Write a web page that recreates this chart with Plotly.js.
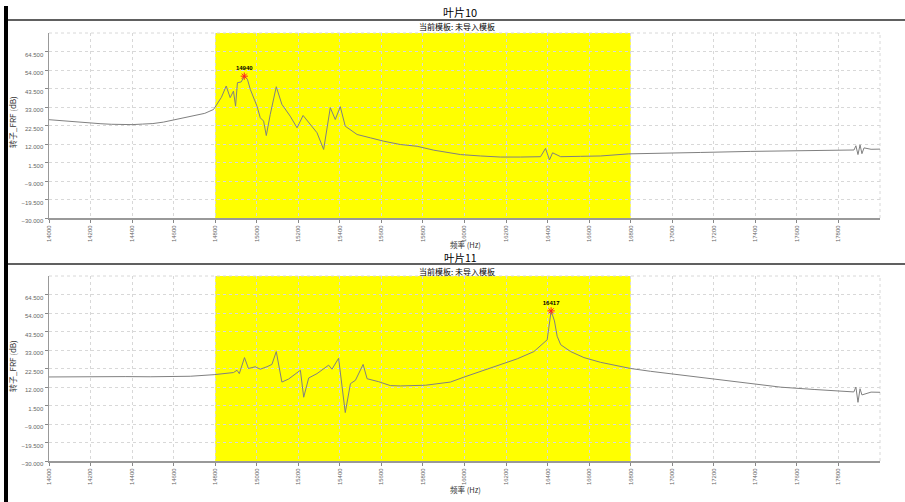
<!DOCTYPE html>
<html>
<head>
<meta charset="utf-8">
<script src="https://cdn.plot.ly/plotly-3.0.1.min.js"></script>
<style>
html,body{margin:0;padding:0;background:#fff;}
#chart{width:905px;height:502px;}
</style>
</head>
<body>
<div id="chart"></div>
<script>
// ---- data ----
const titles = ['叶片10', '叶片11'];
const subtitle = '当前模板: 未导入模板';
const xTitle = '频率 (Hz)';
const yTitle = '转子_FRF (dB)';

const xTickVals = [14000, 14200, 14400, 14600, 14800, 15000, 15200, 15400, 15600, 15800,
                   16000, 16200, 16400, 16600, 16800, 17000, 17200, 17400, 17600, 17800];
const xTickText = ['14000', '14200', '14400', '14600', '14800', '15000', '15200', '15400', '15600', '15800',
                   '16000', '16200', '16400', '16600', '16800', '17000', '17200', '17400', '17600', '17800'];
const yTickVals = [-30, -19.5, -9, 1.5, 12, 22.5, 33, 43.5, 54, 64.5];
const xRange = [14000, 18000];
const yRange = [-30, 75];
const bandRange = [14800, 16800];

const freqTop = [14000, 14050, 14100, 14150, 14200, 14250, 14300, 14350, 14400, 14450,
  14500, 14550, 14600, 14650, 14700, 14750, 14792, 14808, 14830, 14853, 14872, 14888, 14898,
  14907, 14925, 14940, 14955, 14969, 15001, 15017, 15033, 15046, 15065, 15094, 15121, 15161,
  15194, 15223, 15250, 15290, 15322, 15354, 15378, 15402, 15426, 15483, 15547, 15611, 15691,
  15772, 15852, 15932, 15981, 16077, 16173, 16270, 16366, 16390, 16400, 16409, 16424, 16463,
  16559, 16655, 16790, 16944, 17137, 17378, 17619, 17812, 17875, 17884, 17894, 17904, 17913,
  17923, 17957, 18000];
const valTop = [25.8, 25.3, 24.7, 24.2, 23.8, 23.5, 23.2, 23.0, 23.0, 23.3,
  23.6, 24.4, 25.6, 26.8, 28.0, 29.4, 31.6, 34.5, 38.5, 44.9, 38.3, 42.0, 33.5,
  46.8, 47.2, 50.5, 48.8, 43.0, 33.5, 26.9, 25.0, 16.8, 28.8, 44.5, 34.5, 27.8,
  21.2, 28.2, 24.1, 18.4, 8.9, 32.6, 25.9, 33.2, 22.1, 17.4, 15.5, 13.6, 11.7,
  10.7, 8.5, 7.0, 6.0, 5.2, 4.6, 4.6, 4.8, 9.5, 6.0, 3.0, 7.0, 4.8,
  5.0, 5.2, 6.4, 6.9, 7.2, 7.8, 8.3, 8.7, 8.6, 11.0, 6.0, 11.5, 6.5,
  9.8, 9.0, 9.1];

const freqBottom = [14000, 14120, 14246, 14370, 14487, 14600, 14680, 14795, 14840, 14888,
  14905, 14916, 14941, 14960, 14993, 15017, 15049, 15073, 15094, 15121, 15153, 15210, 15226,
  15250, 15290, 15346, 15362, 15394, 15426, 15451, 15475, 15512, 15531, 15587, 15643, 15691,
  15812, 15932, 15997, 16093, 16173, 16254, 16334, 16382, 16398, 16417, 16433, 16446, 16463,
  16511, 16575, 16655, 16736, 16800, 16896, 17137, 17378, 17523, 17683, 17844, 17874, 17884,
  17894, 17904, 17913, 17957, 18000];
const valBottom = [17.7, 17.9, 17.8, 17.9, 17.8, 18.0, 18.1, 19.0, 19.5, 20.2,
  21.5, 19.6, 28.7, 22.5, 23.5, 22.1, 23.5, 24.8, 32.1, 14.8, 16.5, 21.5, 6.2,
  17.1, 19.6, 24.4, 22.1, 28.3, -2.5, 13.9, 15.8, 24.8, 16.7, 15.0, 12.8, 12.6,
  13.0, 14.8, 17.6, 21.5, 24.5, 28.0, 32.1, 36.9, 38.8, 55.2, 49.5, 40.8, 36.0,
  32.1, 28.7, 26.0, 24.1, 22.5, 20.9, 17.3, 13.9, 11.9, 10.6, 9.4, 9.2, 12.0,
  3.3, 11.0, 7.5, 9.1, 9.0];

const peakFreqs = [14940, 16417];
const peakVals = [50.5, 55.2];
const peakLabels = ['14940', '16417'];

// ---- layout helpers ----
const W = 905, H = 502, L = 49, R = 25;
const plotW = W - L - R;
const px = v => (v - L) / plotW;      // pixel x -> paper x
const py = v => 1 - v / H;            // pixel y -> paper y

const cjk = '"Noto Sans CJK SC", "Liberation Sans", sans-serif';
const lineColor = '#808080';

const peakMarker = {symbol: 'asterisk-open', size: 6, color: '#ff2020', line: {color: '#ff2020', width: 1}};
const peakFont = {size: 6, color: '#000', family: '"Liberation Sans", sans-serif', weight: 'bold'};

const traces = [
  {x: freqTop, y: valTop, xaxis: 'x', yaxis: 'y', type: 'scatter', mode: 'lines',
   line: {color: lineColor, width: 1}, hoverinfo: 'skip'},
  {x: freqBottom, y: valBottom, xaxis: 'x2', yaxis: 'y2', type: 'scatter', mode: 'lines',
   line: {color: lineColor, width: 1}, hoverinfo: 'skip'},
  {x: [peakFreqs[0]], y: [peakVals[0]], text: [peakLabels[0]], xaxis: 'x', yaxis: 'y',
   type: 'scatter', mode: 'markers+text', textposition: 'top center',
   marker: peakMarker, textfont: peakFont},
  {x: [peakFreqs[1]], y: [peakVals[1]], text: [peakLabels[1]], xaxis: 'x2', yaxis: 'y2',
   type: 'scatter', mode: 'markers+text', textposition: 'top center',
   marker: peakMarker, textfont: peakFont}
];

function xAxis(anchor) {
  return {
    anchor: anchor, domain: [0, 1], range: xRange, tickmode: 'array',
    tickvals: xTickVals, ticktext: xTickText, tickangle: -90,
    tickfont: {size: 6, color: '#666', family: '"Liberation Sans", sans-serif'},
    ticks: 'outside', ticklen: 3, tickcolor: '#888', showline: true, linecolor: '#999', linewidth: 2,
    showgrid: true, gridcolor: '#d8d8d8', griddash: 'dot', gridwidth: 1, zeroline: false, fixedrange: true
  };
}
function yAxis(anchor, dom) {
  return {
    anchor: anchor, domain: dom, range: yRange, tickmode: 'array', tickvals: yTickVals,
    tickformat: '.3f', tickfont: {size: 6, color: '#666', family: '"Liberation Sans", sans-serif'},
    ticks: 'outside', ticklen: 3, tickcolor: '#888', ticklabelshift: 3,
    showline: true, linecolor: '#999', linewidth: 1.5,
    showgrid: true, gridcolor: '#d8d8d8', griddash: 'dot', gridwidth: 1, zeroline: false, fixedrange: true
  };
}

const shapes = [];
[['x', 'y'], ['x2', 'y2']].forEach(([xa, ya]) => {
  shapes.push({type: 'rect', xref: xa, yref: ya + ' domain', x0: bandRange[0], x1: bandRange[1],
    y0: 0, y1: 1, fillcolor: '#ffff00', line: {width: 0}, layer: 'below'});
  shapes.push({type: 'line', xref: xa + ' domain', yref: ya + ' domain', x0: 0, x1: 1, y0: 1, y1: 1,
    line: {color: '#d8d8d8', width: 1, dash: 'dot'}, layer: 'below'});
  shapes.push({type: 'line', xref: xa + ' domain', yref: ya + ' domain', x0: 1, x1: 1, y0: 0, y1: 1,
    line: {color: '#d8d8d8', width: 1, dash: 'dot'}, layer: 'below'});
});
// frame lines
shapes.push({type: 'rect', xref: 'paper', yref: 'paper', x0: px(4), x1: px(8), y0: py(H), y1: py(6),
  fillcolor: '#000', line: {width: 0}});
shapes.push({type: 'line', xref: 'paper', yref: 'paper', x0: px(8), x1: px(W), y0: py(20), y1: py(20),
  line: {color: '#606060', width: 2}});
shapes.push({type: 'line', xref: 'paper', yref: 'paper', x0: px(8), x1: px(W), y0: py(264), y1: py(264),
  line: {color: '#606060', width: 2}});

const ann = (text, x, y, size, extra) => Object.assign({
  text: text, xref: 'paper', yref: 'paper', x: px(x), y: py(y), showarrow: false,
  xanchor: 'center', yanchor: 'middle', font: {size: size, color: '#000', family: cjk}
}, extra || {});

const annotations = [
  ann(titles[0], 460, 12, 11),
  ann(subtitle, 457, 27, 8),
  ann(xTitle, 465, 244, 7.5, {font: {size: 7.5, color: '#333', family: cjk}}),
  ann(yTitle, 12, 122, 8, {textangle: -90, font: {size: 8, color: '#333', family: cjk}}),
  ann(titles[1], 460, 257.5, 10.5),
  ann(subtitle, 457, 271, 8),
  ann(xTitle, 465, 489, 7.5, {font: {size: 7.5, color: '#333', family: cjk}}),
  ann(yTitle, 12, 366, 8, {textangle: -90, font: {size: 8, color: '#333', family: cjk}})
];

const layout = {
  width: W, height: H, margin: {l: L, r: R, t: 0, b: 0, pad: 0},
  paper_bgcolor: '#fff', plot_bgcolor: '#fff', showlegend: false,
  xaxis: xAxis('y'), yaxis: yAxis('x', [py(218), py(33)]),
  xaxis2: xAxis('y2'), yaxis2: yAxis('x2', [py(461), py(276)]),
  shapes: shapes, annotations: annotations,
  font: {family: cjk}
};

Plotly.newPlot('chart', traces, layout, {staticPlot: true, displayModeBar: false});
</script>
</body>
</html>
